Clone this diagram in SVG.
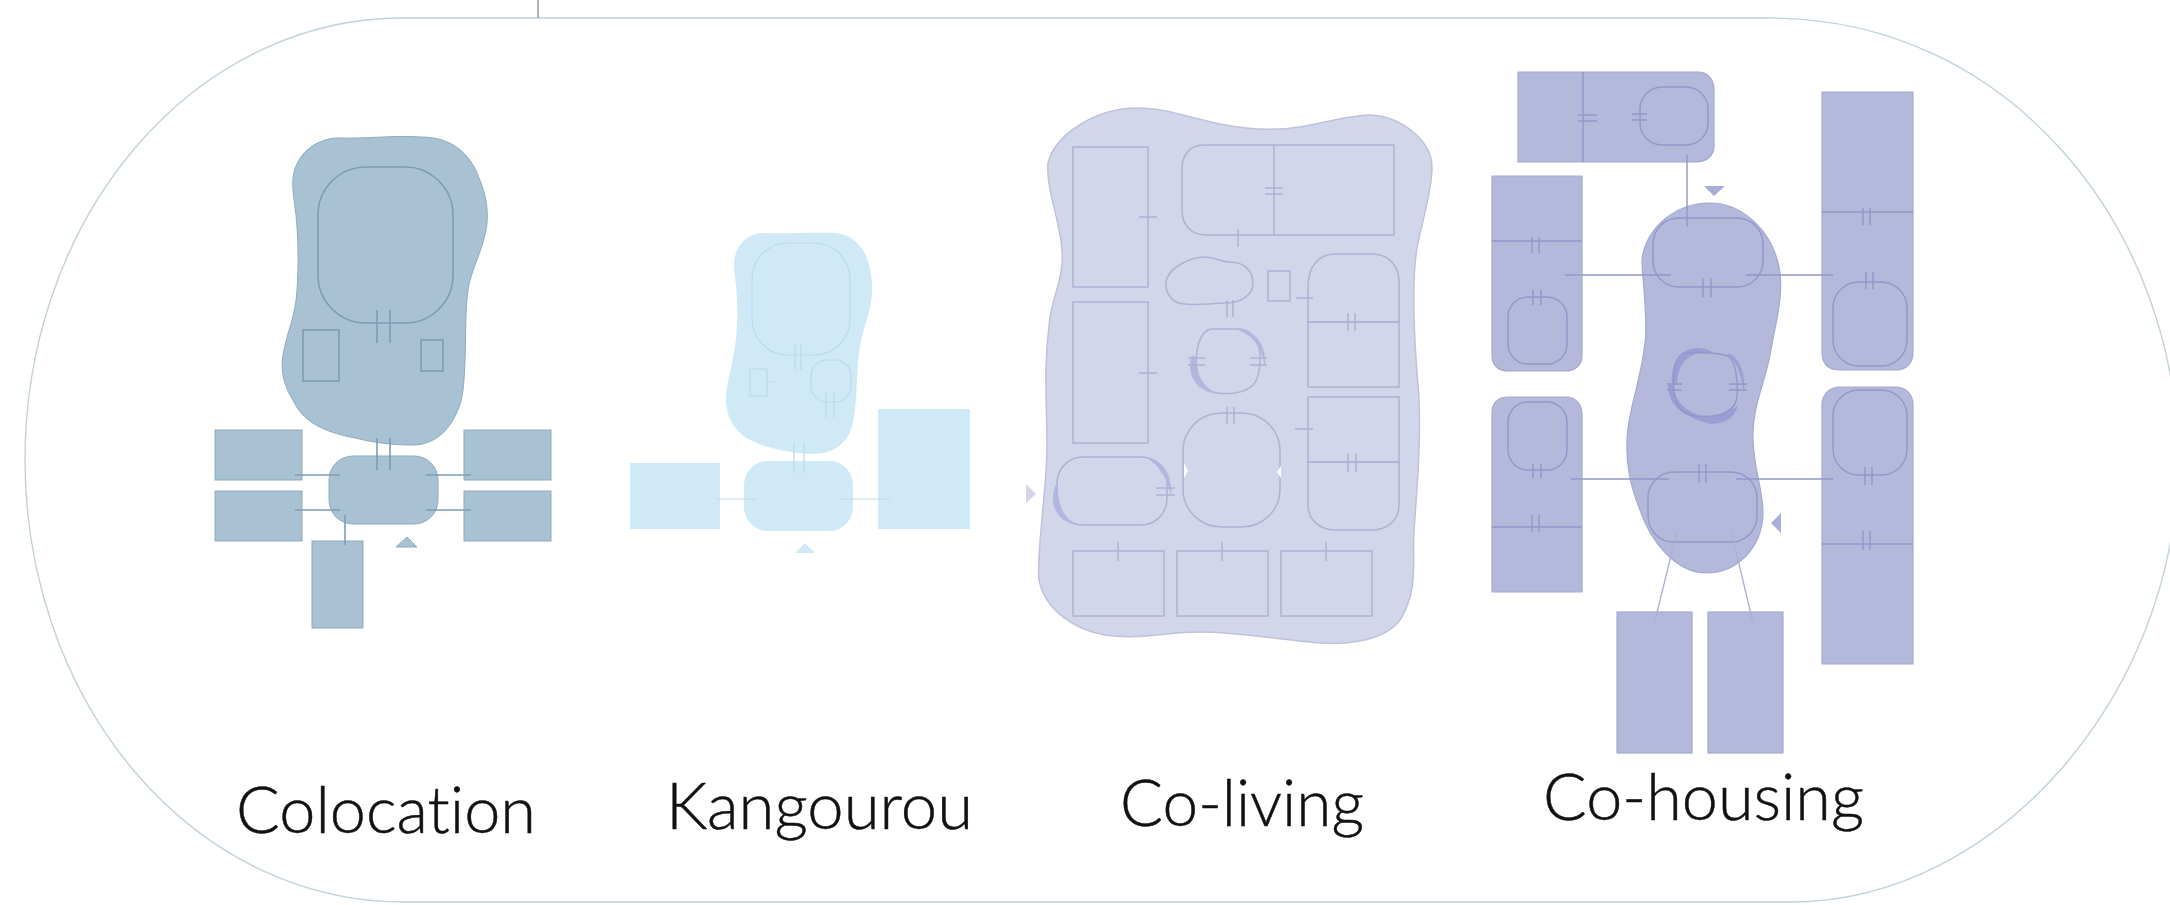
<svg xmlns="http://www.w3.org/2000/svg" width="2170" height="905" viewBox="0 0 2170 905">
<style>
text{font-family:"Lato","Open Sans","Liberation Sans",sans-serif;font-weight:300;font-size:66px;fill:#111;stroke:#111;stroke-width:.5px;font-variant-ligatures:none}
.c1{fill:#a8c1d3;stroke:#8fabc1;stroke-width:1}
.l1{fill:none;stroke:#7f9cb5;stroke-width:1.6}
.c2{fill:#d0e9f7;stroke:none}
.l2{fill:none;stroke:#bdd9e9;stroke-width:1.2}
.c3{fill:#d2d6ea;stroke:#bec2dc;stroke-width:1.5}
.l3{fill:none;stroke:#aeb3d3;stroke-width:1.5}
.c4{fill:#b4b9dc;stroke:#a4a9d3;stroke-width:1.2}
.l4{fill:none;stroke:#9197c8;stroke-width:1.4}
.t3{fill:#b3b7de}
.t4{fill:#9a9fd3}
.a4{fill:#a9aed9}
</style>
<g id="frame">
<path d="M402 18H1770C2010 18 2178 230 2178 460C2178 690 2000 902 1790 902H402A377 442 0 0 1 25 460A377 442 0 0 1 402 18Z" fill="none" stroke="#c2d2db" stroke-width="1.4"/>
<path d="M538 0V18" stroke="#999" stroke-width="1.5"/>
</g>
<g id="colocation">
<path class="c1" d="M337 138C365 139 395 135 421 137C450 137 470 152 479 178C487 196 489 215 486 230C482 252 471 270 468 290C465 310 466 340 465 360C464 385 463 400 457 412C447 435 430 446 410 445C395 445 375 443 355 438C330 433 305 425 294 402C285 388 280 372 283 355C286 335 296 315 297 290C299 265 298 235 296 215C294 198 291 185 294 172C300 150 318 139 337 138Z"/>
<rect class="l1" x="318" y="167" width="135" height="156" rx="48"/>
<rect class="l1" x="303" y="330" width="36" height="51"/>
<rect class="l1" x="421" y="340" width="22" height="31"/>
<rect class="c1" x="215" y="430" width="87" height="50"/>
<rect class="c1" x="215" y="491" width="87" height="50"/>
<rect class="c1" x="464" y="430" width="87" height="50"/>
<rect class="c1" x="464" y="491" width="87" height="50"/>
<rect class="c1" x="329" y="456" width="109" height="68" rx="24"/>
<rect class="c1" x="312" y="541" width="51" height="87"/>
<path class="c1" d="M396 547L407 537L417 547Z"/>
</g>
<g id="kangourou">
<path class="c2" d="M760 233C785 234 815 232 837 233C852 235 865 247 869 265C873 280 873 295 870 308C866 325 859 340 858 365C856 390 857 410 851 430C844 447 830 454 812 454C790 453 765 448 748 439C733 430 725 415 726 395C728 375 736 355 737 325C738 300 736 285 734 268C733 248 745 235 760 233Z"/>
<rect class="l2" x="752" y="243" width="98" height="112" rx="36"/>
<rect class="l2" x="750" y="369" width="17" height="27"/>
<rect class="l2" x="811" y="360" width="40" height="42" rx="16"/>
<rect class="c2" x="630" y="463" width="90" height="66"/>
<rect class="c2" x="878" y="409" width="92" height="120"/>
<rect class="c2" x="744" y="461" width="109" height="70" rx="24"/>
<path class="c2" d="M795 553L805 543L815 553Z"/>
</g>
<g id="coliving">
<path class="c3" d="M1137 108C1165 108 1190 118 1220 124C1250 130 1275 131 1300 127C1325 123 1350 115 1370 115C1400 116 1432 140 1432 167C1432 195 1420 225 1416 255C1412 285 1414 340 1418 385C1422 430 1417 490 1414 530C1412 560 1419 590 1400 620C1385 640 1350 645 1320 643C1290 641 1240 632 1200 632C1165 632 1140 640 1105 635C1075 630 1045 610 1039 580C1036 555 1047 490 1047 445C1047 400 1043 370 1050 317C1055 290 1064 275 1062 250C1060 220 1046 190 1048 163C1055 135 1095 108 1137 108Z"/>
<rect class="l3" x="1073" y="147" width="75" height="140"/>
<rect class="l3" x="1073" y="302" width="75" height="141"/>
<path class="l3" d="M1274 145H1394V235H1274ZM1274 145H1204C1190 145 1182 155 1182 168V210C1182 226 1192 235 1206 235H1274"/>
<path class="l3" d="M1166 282C1168 268 1190 257 1205 257C1215 257 1220 262 1230 262C1245 262 1253 272 1253 283C1253 296 1240 303 1225 303C1205 304 1185 306 1176 302C1169 298 1165 290 1166 282Z"/>
<rect class="l3" x="1268" y="271" width="22" height="30"/>
<path class="l3" d="M1308 322V287C1308 265 1320 254 1335 254H1372C1388 254 1399 265 1399 282V322Z"/>
<rect class="l3" x="1308" y="322" width="91" height="65"/>
<rect class="l3" x="1308" y="397" width="91" height="65"/>
<path class="l3" d="M1308 462H1399V505C1399 522 1385 530 1372 530H1335C1320 530 1308 520 1308 505Z"/>
<rect class="l3" x="1057" y="457" width="110" height="68" rx="26"/>
<rect class="l3" x="1183" y="413" width="97" height="114" rx="38"/>
<path class="l3" d="M1210 329C1220 329 1235 329 1240 329C1255 331 1261 345 1260 362C1259 380 1255 390 1235 393C1215 395 1205 392 1199 380C1194 365 1195 335 1210 329Z"/>
<rect class="l3" x="1073" y="551" width="91" height="65"/>
<rect class="l3" x="1177" y="551" width="91" height="65"/>
<rect class="l3" x="1281" y="551" width="91" height="65"/>
<path class="t3" d="M1235 329C1256 329 1267 345 1265 367C1262 350 1255 335 1235 329ZM1192 355C1185 375 1198 393 1217 393C1203 387 1196 375 1197 358ZM1056 484C1047 505 1058 523 1078 525C1064 519 1057 505 1058 484ZM1145 457C1163 459 1173 475 1171 497C1168 480 1160 465 1145 457Z"/>
<path d="M1026 484L1036 494L1026 503Z" fill="#d5d4ea"/>
<path d="M1184 463L1188 471L1184 478ZM1281 466L1277 472L1281 478Z" fill="#fff"/>
</g>
<g id="cohousing">
<path class="c4" d="M1518 72H1698C1708 72 1714 80 1714 90V146C1714 156 1706 162 1696 162H1518Z"/>
<path class="c4" d="M1492 176H1582V356C1582 366 1574 371 1565 371H1508C1498 371 1492 365 1492 355Z"/>
<path class="c4" d="M1508 397H1566C1576 397 1582 405 1582 415V592H1492V413C1492 403 1498 397 1508 397Z"/>
<path class="c4" d="M1822 92H1913V352C1913 364 1906 370 1895 370H1840C1828 370 1822 364 1822 352Z"/>
<path class="c4" d="M1840 387H1895C1906 387 1913 394 1913 405V664H1822V405C1822 394 1830 387 1840 387Z"/>
<rect class="c4" x="1617" y="612" width="75" height="141"/>
<rect class="c4" x="1708" y="612" width="75" height="141"/>
<path class="c4" d="M1710 203C1745 203 1775 235 1780 273C1783 300 1775 325 1771 350C1765 385 1752 405 1753 440C1754 470 1763 490 1763 513C1762 550 1735 573 1707 573C1675 573 1650 540 1640 510C1630 485 1626 465 1627 440C1628 410 1640 385 1645 343C1648 320 1643 285 1642 263C1642 235 1670 203 1710 203Z"/>
<rect class="l4" x="1653" y="218" width="110" height="69" rx="26"/>
<rect class="l4" x="1648" y="472" width="109" height="70" rx="26"/>
<path class="t4" d="M1672 385C1670 365 1680 348 1697 348C1708 348 1712 352 1712 352C1690 352 1678 360 1677 385ZM1727 353C1740 356 1746 375 1744 395C1742 380 1740 365 1727 353ZM1668 385C1668 410 1690 418 1710 424C1725 424 1735 418 1738 405C1730 412 1715 418 1705 416C1690 414 1676 405 1673 385Z"/>
<path class="l4" d="M1682 354C1692 351 1720 353 1728 356C1738 362 1739 395 1735 404C1726 418 1705 417 1695 416C1682 414 1675 405 1674 392C1673 375 1673 360 1682 354Z"/>
<rect class="l4" x="1640" y="87" width="68" height="58" rx="22"/>
<rect class="l4" x="1508" y="297" width="59" height="67" rx="20"/>
<rect class="l4" x="1508" y="402" width="59" height="68" rx="20"/>
<rect class="l4" x="1833" y="282" width="74" height="84" rx="26"/>
<rect class="l4" x="1833" y="390" width="74" height="85" rx="26"/>
<path class="l4" d="M1583 72V162M1492 241H1582M1822 212H1913M1492 527H1582M1822 544H1913"/>
<path class="a4" d="M1704 186H1725L1714 196ZM1781 513V533L1771 523Z"/>
</g>
<g id="connectors">
<path class="l1" stroke-width="1.2" d="M377 310V343M390 310V343M377 438V470M390 438V470M295 475H340M426 475H471M295 510H340M426 510H471M345 515V545"/>
<path class="l2" d="M795 345V370M801 345V370M826 392V418M834 392V418M794 443V473M804 443V473M717 499H757M840 499H890M767 382H775"/>
<path class="l3" stroke-width="1.1" d="M1139 217H1157M1265 188H1283M1265 194H1283M1238 229V247M1139 373H1157M1227 300V317M1233 300V317M1250 358H1267M1250 365H1267M1188 358H1205M1188 365H1205M1227 407V424M1234 407V424M1296 298H1313M1348 313V331M1355 313V331M1295 429H1313M1348 454V472M1356 454V472M1156 488H1175M1156 495H1175M1118 542V561M1222 542V561M1326 542V561"/>
<path class="l4" stroke-width="1" d="M1578 115H1597M1578 121H1597M1632 114H1647M1632 120H1647M1687 155V227M1532 237V253M1539 237V253M1533 290V305M1541 290V305M1565 275H1671M1746 275H1833M1863 208V225M1870 208V225M1866 272V289M1873 272V289M1703 278V297M1711 278V297M1667 384H1682M1667 390H1682M1729 384H1747M1729 390H1747M1699 464V483M1706 464V483M1571 479H1669M1736 479H1833M1533 464V478M1541 464V478M1532 515V532M1539 515V532M1865 467V485M1872 467V485M1863 531V550M1870 531V550"/>
<path d="M1677 531L1654 625M1731 530L1753 623" fill="none" stroke="#aab0d4" stroke-width="1.3"/>
</g>
<g id="labels">
<text x="236" y="833" textLength="300" lengthAdjust="spacingAndGlyphs">Colocation</text>
<text x="666" y="829" textLength="307" lengthAdjust="spacingAndGlyphs">Kangourou</text>
<text x="1120" y="826" textLength="244" lengthAdjust="spacingAndGlyphs">Co-living</text>
<text x="1543" y="820" textLength="321" lengthAdjust="spacingAndGlyphs">Co-housing</text>
</g>
</svg>
